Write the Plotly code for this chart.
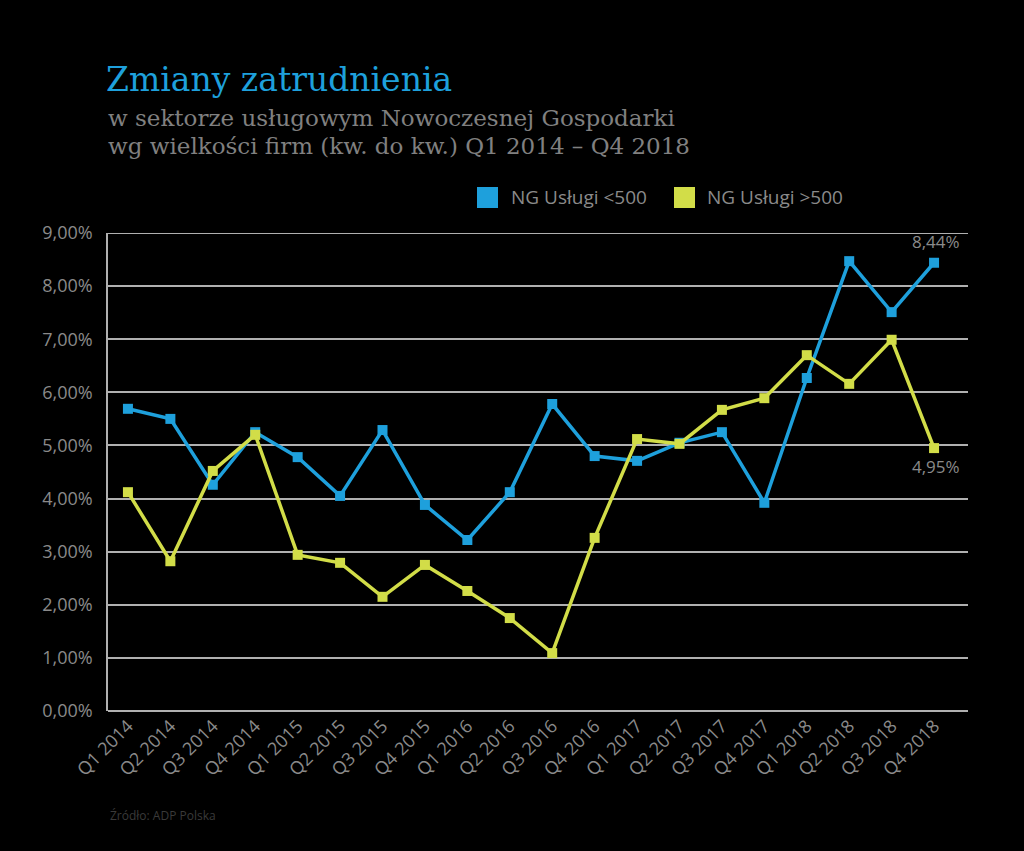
import plotly.graph_objects as go

quarters = ["Q1 2014", "Q2 2014", "Q3 2014", "Q4 2014",
            "Q1 2015", "Q2 2015", "Q3 2015", "Q4 2015",
            "Q1 2016", "Q2 2016", "Q3 2016", "Q4 2016",
            "Q1 2017", "Q2 2017", "Q3 2017", "Q4 2017",
            "Q1 2018", "Q2 2018", "Q3 2018", "Q4 2018"]
small_firms = [5.69, 5.50, 4.26, 5.25, 4.78, 4.05, 5.29, 3.88, 3.22, 4.12,
               5.78, 4.80, 4.71, 5.05, 5.25, 3.92, 6.27, 8.47, 7.51, 8.44]
large_firms = [4.12, 2.82, 4.52, 5.20, 2.94, 2.79, 2.15, 2.75, 2.26, 1.75,
               1.09, 3.26, 5.12, 5.03, 5.67, 5.89, 6.70, 6.16, 6.99, 4.95]
series_names = ["NG Usługi <500", "NG Usługi >500"]
y_ticks = [0, 1, 2, 3, 4, 5, 6, 7, 8, 9]
y_tick_labels = [f"{v:.2f}".replace(".", ",") + "%" for v in y_ticks]

BLUE = "#1ea0dc"
YELLOW = "#d2dd48"
GREY = "#8a8a8a"
GRID = "#b0b0b0"
FONT = "'Open Sans', sans-serif"
SERIF = "'DejaVu Serif', serif"

W, H = 1024, 851
L, R, T, B = 108, 56, 233, 140
PH = H - T - B
PW = W - L - R


def py(pixel_y):
    return (H - B - pixel_y) / PH


def px(pixel_x):
    return (pixel_x - L) / PW


fig = go.Figure()
for name, vals, col in [(series_names[0], small_firms, BLUE), (series_names[1], large_firms, YELLOW)]:
    fig.add_trace(go.Scatter(x=quarters, y=vals, mode="lines+markers",
                             line=dict(color=col, width=3.5),
                             marker=dict(symbol="square", size=10, color=col),
                             showlegend=False, name=name))

# legend (squares + labels)
for name, col, sq_x, txt_x in [(series_names[0], BLUE, 477, 509), (series_names[1], YELLOW, 674, 705)]:
    fig.add_shape(type="rect", xref="paper", yref="paper",
                  x0=px(sq_x), x1=px(sq_x + 21), y0=py(208), y1=py(187),
                  fillcolor=col, line=dict(width=0))
    fig.add_annotation(xref="paper", yref="paper", x=px(txt_x), y=py(197), xanchor="left",
                       yanchor="middle", text=name, showarrow=False,
                       font=dict(family=FONT, size=19, color=GREY))

fig.add_annotation(x=quarters[-1], y=small_firms[-1], text="8,44%", showarrow=False,
                   yshift=21, xshift=2, font=dict(family=FONT, size=17, color=GREY))
fig.add_annotation(x=quarters[-1], y=large_firms[-1], text="4,95%", showarrow=False,
                   yshift=-18, xshift=2, font=dict(family=FONT, size=17, color=GREY))

# title block
fig.add_annotation(xref="paper", yref="paper", x=px(104), y=py(79), xanchor="left", yanchor="middle",
                   text="Zmiany zatrudnienia", showarrow=False,
                   font=dict(family=SERIF, size=33, color=BLUE))
fig.add_annotation(xref="paper", yref="paper", x=px(106), y=py(118), xanchor="left", yanchor="middle",
                   text="w sektorze usługowym Nowoczesnej Gospodarki", showarrow=False,
                   font=dict(family=SERIF, size=23, color="#808080"))
fig.add_annotation(xref="paper", yref="paper", x=px(106), y=py(146), xanchor="left", yanchor="middle",
                   text="wg wielkości firm (kw. do kw.) Q1 2014 – Q4 2018", showarrow=False,
                   font=dict(family=SERIF, size=23, color="#808080"))

fig.add_annotation(xref="paper", yref="paper", x=px(108), y=py(815), xanchor="left", yanchor="middle",
                   text="Źródło: ADP Polska", showarrow=False,
                   font=dict(family=FONT, size=12, color="#3a3a3a"))

fig.update_layout(
    width=W, height=H,
    paper_bgcolor="black", plot_bgcolor="black",
    margin=dict(l=L, r=R, t=T, b=B),
    showlegend=False,
    font=dict(family=FONT, color=GREY),
)
fig.update_xaxes(type="category", tickangle=-45, showgrid=False,
                 showline=False, ticks="", tickfont=dict(family=FONT, size=18, color=GREY),
                 range=[-0.47, 19.8])
fig.update_yaxes(range=[0, 9], tickvals=y_ticks, ticktext=y_tick_labels,
                 showgrid=True, gridcolor=GRID, gridwidth=2,
                 zeroline=True, zerolinecolor=GRID, zerolinewidth=2,
                 showline=True, linecolor=GRID, linewidth=1.5,
                 ticks="", ticklabelstandoff=10,
                 tickfont=dict(family=FONT, size=18, color=GREY))
fig.add_shape(type="line", xref="paper", yref="y", x0=0, x1=1, y0=9, y1=9,
              line=dict(color=GRID, width=2), layer="below")

fig.write_html("out.html", config={"displayModeBar": False},
               post_script="document.body.style.margin='0';document.body.style.background='black';")
